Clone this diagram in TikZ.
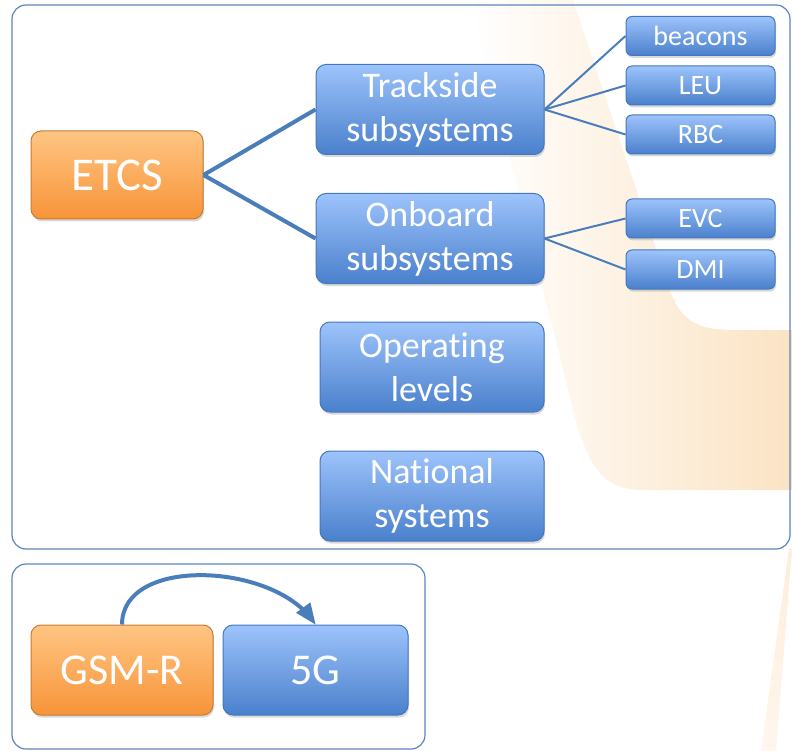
\documentclass[tikz,border=0pt]{standalone}
\usepackage{fontspec}
\setmainfont[Ligatures=NoCommon]{Carlito}
\usetikzlibrary{arrows,shadows}

\definecolor{bluetop}{HTML}{9DC3FB}
\definecolor{bluebot}{HTML}{4A80CC}
\definecolor{blueline}{HTML}{4477C0}
\definecolor{orangetop}{HTML}{FFC583}
\definecolor{orangebot}{HTML}{F79438}
\definecolor{orangeline}{HTML}{C97A33}
\definecolor{linkcol}{HTML}{4A7EBB}
\definecolor{framecol}{HTML}{5A86C0}
\definecolor{swoosh}{HTML}{FBE3C4}

\tikzset{
  boxshadow/.style={drop shadow={shadow xshift=1pt,shadow yshift=-2.5pt,opacity=0.3}},
  bluebox/.style={draw=blueline, line width=1pt, top color=bluetop, bottom color=bluebot,
    rounded corners=10pt, text=white, align=center, inner sep=0pt, boxshadow},
  orangebox/.style={bluebox, draw=orangeline, top color=orangetop, bottom color=orangebot},
  smallbox/.style={bluebox, rounded corners=6pt, minimum width=149pt, minimum height=39pt,
    font=\fontsize{28}{32}\selectfont},
  midbox/.style={bluebox, minimum height=90pt, font=\fontsize{36}{44}\selectfont},
  bigfont/.style={font=\fontsize{47}{54}\selectfont},
  thicklink/.style={draw=linkcol, line width=4pt},
  thinlink/.style={draw=linkcol, line width=2pt},
  frame/.style={draw=framecol, line width=1.2pt, rounded corners=14pt}
}

\begin{document}
\begin{tikzpicture}[x=1pt, y=-1pt, >=triangle 45]
  \useasboundingbox (0,0) rectangle (792,751);

  % background swoosh
  \shade [left color=white, right color=swoosh]
    (470,0) -- (573,0) -- (668,285) .. controls (682,326) and (700,330) .. (740,330)
    -- (792,330) -- (792,490) -- (645,490) .. controls (605,490) and (592,472) .. (577,425)
    -- cycle;
  \shade [top color=swoosh!60, bottom color=swoosh!30]
    (789,549) -- (792,549) -- (776,751) -- (761,751) -- cycle;

  % frames
  \draw [frame] (12,5) rectangle (790,549);
  \draw [frame] (12,564) rectangle (425,749);

  % ETCS tree
  \node [orangebox, bigfont, minimum width=172pt, minimum height=88pt] (etcs) at (117,175) {ETCS};
  \node [midbox, minimum width=228pt] (track) at (430,109.5) {Trackside\\subsystems};
  \node [midbox, minimum width=228pt] (onboard) at (430,238.5) {Onboard\\subsystems};
  \node [midbox, minimum width=224pt] (levels) at (432,367) {Operating\\levels};
  \node [midbox, minimum width=224pt] (national) at (432,496) {National\\systems};

  \node [smallbox] (beacons) at (700.5,36) {beacons};
  \node [smallbox] (leu) at (700.5,85.5) {LEU};
  \node [smallbox] (rbc) at (700.5,134.5) {RBC};
  \node [smallbox] (evc) at (700.5,218.5) {EVC};
  \node [smallbox] (dmi) at (700.5,269.5) {DMI};

  \draw [thicklink] (etcs.east) -- (track.west);
  \draw [thicklink] (etcs.east) -- (onboard.west);
  \foreach \leaf in {beacons,leu,rbc}
    \draw [thinlink] (track.east) -- (\leaf.west);
  \foreach \leaf in {evc,dmi}
    \draw [thinlink] (onboard.east) -- (\leaf.west);

  % radio
  \node [orangebox, font=\fontsize{44}{52}\selectfont, minimum width=182pt, minimum height=90pt] (gsmr) at (122,670) {GSM-R};
  \node [bluebox, font=\fontsize{44}{52}\selectfont, minimum width=185pt, minimum height=90pt] (fiveg) at (315.5,670) {5G};
  \draw [->, draw=linkcol, line width=4pt] (gsmr.north) .. controls +(0,-68) and +(-45,-62) .. (fiveg.north);
\end{tikzpicture}
\end{document}
